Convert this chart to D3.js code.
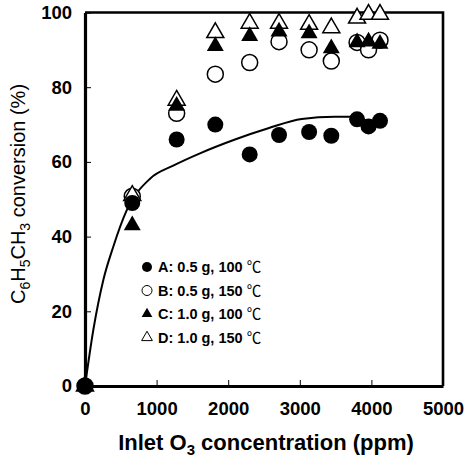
<!DOCTYPE html>
<html>
<head>
<meta charset="utf-8">
<script src="https://cdn.jsdelivr.net/npm/d3@7"></script>
<style>
  html, body { margin: 0; padding: 0; background: #fff; }
  svg text { font-family: "Liberation Sans", Arial, sans-serif; fill: #000; }
</style>
</head>
<body>
<script>
'use strict';

let WIDTH = 470;
let HEIGHT = 458;
let MARGIN = { top: 12.5, right: 27, bottom: 72, left: 85 };

// inlet ozone concentration (ppm), shared by all four runs
let inletO3 = [0, 660, 1280, 1820, 2300, 2710, 3130, 3440, 3800, 3960, 4120];
// toluene conversion (%)
let convA = [0, 49, 66, 70, 62, 67.2, 68, 67, 71.4, 69.5, 71];
let convB = [0, 50.8, 73, 83.5, 86.6, 92.2, 90, 87, 92, 90, 92.6];
let convC = [0, 43, 75, 91, 93.7, 94.9, 94.4, 90.4, 92, 92.2, 91.6];
let convD = [0, 51, 76.5, 94.6, 97.1, 97.1, 96.8, 95.9, 98.5, 99.5, 99.5];

// fitted trend line for run A
let fitX = [0, 116, 256, 395, 582, 908, 1232, 1606, 2095, 2560, 3026, 3490, 3800];
let fitY = [0, 15, 28.4, 37.3, 47, 55.5, 59, 62.3, 66, 69, 71.5, 72.1, 72.1];

let xTicks = [0, 1000, 2000, 3000, 4000, 5000];
let yTicks = [0, 20, 40, 60, 80, 100];

let seriesNames = ['A', 'B', 'C', 'D'];
let legendLabels = ['A: 0.5 g, 100 ', 'B: 0.5 g, 150 ', 'C: 1.0 g, 100 ', 'D: 1.0 g, 150 '];

let innerW = WIDTH - MARGIN.left - MARGIN.right;
let innerH = HEIGHT - MARGIN.top - MARGIN.bottom;

let x = d3.scaleLinear().domain([0, 5000]).range([0, innerW]);
let y = d3.scaleLinear().domain([0, 100]).range([innerH, 0]);

let svg = d3.select('body')
    .append('svg')
    .attr('width', WIDTH)
    .attr('height', HEIGHT);

let g = svg.append('g')
    .attr('transform', 'translate(' + MARGIN.left + ',' + MARGIN.top + ')');

// top and right frame
g.append('path')
    .attr('d', 'M0,0H' + innerW + 'V' + innerH)
    .attr('fill', 'none')
    .attr('stroke', '#000')
    .attr('stroke-width', 2.6);

let xAxis = g.append('g')
    .attr('transform', 'translate(0,' + innerH + ')')
    .call(d3.axisBottom(x).tickValues(xTicks).tickFormat(d3.format('d'))
        .tickSizeInner(-6).tickSizeOuter(0).tickPadding(16));

let yAxis = g.append('g')
    .call(d3.axisLeft(y).tickValues(yTicks).tickFormat(d3.format('d'))
        .tickSizeInner(-6).tickSizeOuter(0).tickPadding(13));

[xAxis, yAxis].forEach((ax) => {
    ax.select('.domain').attr('stroke-width', 3.2);
    ax.selectAll('.tick line').attr('stroke-width', 1);
    ax.selectAll('.tick text')
        .attr('font-size', 18.5)
        .attr('font-weight', 'bold')
        .style('font-family', '"Liberation Sans", Arial, sans-serif');
});

// axis titles
let xTitle = svg.append('text')
    .attr('x', MARGIN.left + innerW / 2 + 2)
    .attr('y', 450)
    .attr('text-anchor', 'middle')
    .attr('font-size', 22)
    .attr('font-weight', 'bold');
xTitle.append('tspan').text('Inlet O');
xTitle.append('tspan').attr('font-size', 15).attr('dy', 5).text('3');
xTitle.append('tspan').attr('dy', -5).text(' concentration (ppm)');

let yTitle = svg.append('text')
    .attr('transform', 'translate(25,194) rotate(-90)')
    .attr('text-anchor', 'middle')
    .attr('font-size', 20);
yTitle.append('tspan').text('C');
yTitle.append('tspan').attr('font-size', 14).attr('dy', 5).text('6');
yTitle.append('tspan').attr('dy', -5).text('H');
yTitle.append('tspan').attr('font-size', 14).attr('dy', 5).text('5');
yTitle.append('tspan').attr('dy', -5).text('CH');
yTitle.append('tspan').attr('font-size', 14).attr('dy', 5).text('3');
yTitle.append('tspan').attr('dy', -5).text(' conversion (%)');

// trend line
let lineGen = d3.line()
    .curve(d3.curveMonotoneX)
    .x((d) => x(d[0]))
    .y((d) => y(d[1]));

g.append('path')
    .attr('d', lineGen(d3.zip(fitX, fitY)))
    .attr('fill', 'none')
    .attr('stroke', '#000')
    .attr('stroke-width', 2);

let markerStyle = {
    A: { type: d3.symbolCircle, filled: true },
    B: { type: d3.symbolCircle, filled: false },
    C: { type: d3.symbolTriangle, filled: true },
    D: { type: d3.symbolTriangle, filled: false },
};
let seriesValues = { A: convA, B: convB, C: convC, D: convD };

function symbolPath(name, big) {
    let s = markerStyle[name];
    let size;
    if (s.type === d3.symbolCircle) {
        size = big ? Math.PI * 8 * 8 : Math.PI * 5 * 5;
    } else {
        size = big ? 125 : 50;
    }
    return d3.symbol().type(s.type).size(size)();
}

// open markers first, filled ones drawn over them
['B', 'D', 'A', 'C'].forEach((name) => {
    let s = markerStyle[name];
    g.append('g')
        .selectAll('path')
        .data(d3.zip(inletO3, seriesValues[name]))
        .enter()
        .append('path')
        .attr('transform', (d) => 'translate(' + x(d[0]) + ',' + y(d[1]) + ')')
        .attr('d', symbolPath(name, true))
        .attr('fill', s.filled ? '#000' : '#fff')
        .attr('stroke', '#000')
        .attr('stroke-width', s.filled ? 0 : 1.5);
});

// legend
let legend = svg.append('g').attr('transform', 'translate(147,267)');
seriesNames.forEach((name, i) => {
    let s = markerStyle[name];
    let row = legend.append('g').attr('transform', 'translate(0,' + (i * 23.5) + ')');
    row.append('path')
        .attr('d', symbolPath(name, false))
        .attr('fill', s.filled ? '#000' : '#fff')
        .attr('stroke', '#000')
        .attr('stroke-width', s.filled ? 0 : 1);
    let t = row.append('text')
        .attr('x', 11)
        .attr('y', 5)
        .attr('font-size', 14.5)
        .attr('font-weight', 'bold');
    t.append('tspan').text(legendLabels[i]);
    t.append('tspan')
        .attr('font-weight', 'normal')
        .style('font-family', '"Noto Sans CJK SC", "DejaVu Sans", sans-serif')
        .text('℃');
});
</script>
</body>
</html>
